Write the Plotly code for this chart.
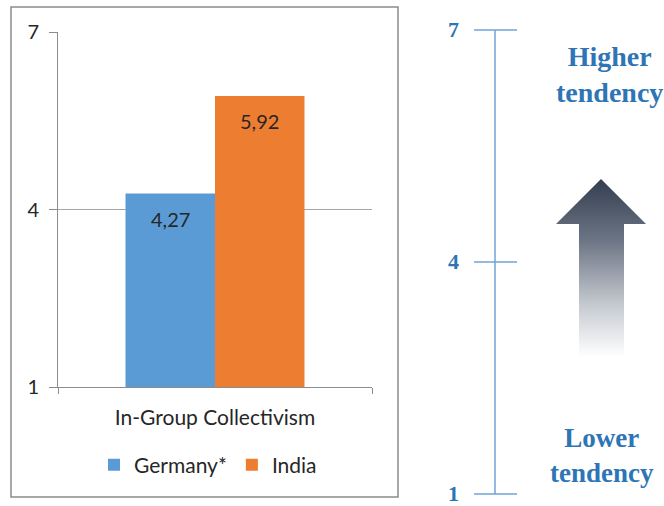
import plotly.graph_objects as go
import base64

# Dados
categorias = ["In-Group Collectivism"]
paises = ["Germany*", "India"]
valores_germany = [4.27]
valores_india = [5.92]
cores = ["#5b9bd5", "#ed7d31"]
ticks_escala = [1, 4, 7]
texto_alto = "Higher<br>tendency"
texto_baixo = "Lower<br>tendency"

W, H = 664, 506


def px_x(x):
    return x / W


def px_y(y):
    return (H - y) / H


# escala da direita: 1 -> y=494 px, 7 -> y=30 px
def escala_y(v):
    return px_y(494 + (v - 1) * (30 - 494) / 6)


fig = go.Figure()

for nome, valores, cor in zip(paises, [valores_germany, valores_india], cores):
    fig.add_trace(go.Bar(
        x=categorias,
        y=valores,
        name=nome,
        marker=dict(color=cor, line=dict(width=0)),
        hoverinfo="name+y",
    ))

# Rótulos de dados (dentro da barra, um pouco abaixo do topo)
for valores, deslocamento in zip([valores_germany, valores_india], [-44.5, 44.5]):
    for cat, v in zip(categorias, valores):
        fig.add_annotation(
            x=cat, y=v, xref="x", yref="y",
            text=f"{v:.2f}".replace(".", ","),
            showarrow=False, xanchor="center", yanchor="middle",
            xshift=deslocamento, yshift=-25,
            font=dict(family="Lato", size=20, color="#262626"),
        )

azul = "#2e75b6"
cinza = "#8c8c8c"

fig.update_layout(
    width=W,
    height=H,
    margin=dict(l=0, r=0, t=0, b=0, autoexpand=False),
    paper_bgcolor="white",
    plot_bgcolor="white",
    barmode="group",
    bargap=0.43,
    bargroupgap=0,
    font=dict(family="Lato", color="#262626"),
    xaxis=dict(
        domain=[px_x(58), px_x(372)],
        type="category",
        range=[-0.5, 0.5],
        showline=True,
        linecolor=cinza,
        linewidth=1,
        ticks="outside",
        tickson="boundaries",
        ticklen=6,
        tickcolor=cinza,
        tickfont=dict(family="Lato", size=21, color="#262626"),
        ticklabelstandoff=12,
        showgrid=False,
    ),
    yaxis=dict(
        domain=[px_y(387), px_y(32)],
        range=[1, 7],
        tickvals=ticks_escala,
        showline=True,
        linecolor=cinza,
        ticks="outside",
        ticklen=8,
        tickcolor=cinza,
        showgrid=True,
        gridcolor="#a6a6a6",
        zeroline=False,
        tickfont=dict(family="Lato", size=20, color="#262626"),
        ticklabelstandoff=6,
    ),
    legend=dict(
        orientation="h",
        x=px_x(208),
        xanchor="center",
        y=px_y(465),
        yanchor="middle",
        font=dict(family="Lato", size=21, color="#262626"),
        traceorder="normal",
    ),
)

# Moldura do gráfico da esquerda
fig.add_shape(type="rect", xref="paper", yref="paper",
              x0=px_x(11), x1=px_x(398), y0=px_y(497), y1=px_y(7),
              line=dict(color=cinza, width=1.5), layer="below")

# Escala da direita
x_linha = px_x(495)
fig.add_shape(type="line", xref="paper", yref="paper",
              x0=x_linha, x1=x_linha, y0=escala_y(1), y1=escala_y(7),
              line=dict(color="#6fa4d8", width=1.5))
for t in ticks_escala:
    fig.add_shape(type="line", xref="paper", yref="paper",
                  x0=px_x(474), x1=px_x(517), y0=escala_y(t), y1=escala_y(t),
                  line=dict(color="#6fa4d8", width=1.5))
    fig.add_annotation(x=px_x(454), y=escala_y(t) + 1 / H, xref="paper", yref="paper",
                       text=str(t), showarrow=False,
                       xanchor="center", yanchor="middle",
                       font=dict(family="Liberation Serif", size=22, color=azul, weight="bold"))

fig.add_annotation(x=px_x(609), y=px_y(74), xref="paper", yref="paper",
                   text=texto_alto, showarrow=False, xanchor="center", yanchor="middle",
                   font=dict(family="Liberation Serif", size=28, color=azul, weight="bold"))
fig.add_annotation(x=px_x(602), y=px_y(455), xref="paper", yref="paper",
                   text=texto_baixo, showarrow=False, xanchor="center", yanchor="middle",
                   font=dict(family="Liberation Serif", size=27, color=azul, weight="bold"))

# Seta com degradê
svg = (
    '<svg xmlns="http://www.w3.org/2000/svg" width="90" height="178" viewBox="0 0 90 178">'
    '<defs><linearGradient id="g" x1="0" y1="0" x2="0" y2="1">'
    '<stop offset="0" stop-color="#333e50"/>'
    '<stop offset="0.35" stop-color="#6d7686"/>'
    '<stop offset="0.7" stop-color="#c4c8cf"/>'
    '<stop offset="1" stop-color="#ffffff"/>'
    '</linearGradient></defs>'
    '<polygon points="45,0 90,45 68,45 68,178 23,178 23,45 0,45" fill="url(#g)"/>'
    '</svg>'
)
fonte = "data:image/svg+xml;base64," + base64.b64encode(svg.encode()).decode()
fig.add_layout_image(
    source=fonte, xref="paper", yref="paper",
    x=px_x(556), y=px_y(179), sizex=px_x(90), sizey=178 / H,
    xanchor="left", yanchor="top", sizing="stretch", layer="above",
)

# remove a margem padrão da página
fig.write_html("out.html", config={"displayModeBar": False},
               post_script="document.body.style.margin='0';")
